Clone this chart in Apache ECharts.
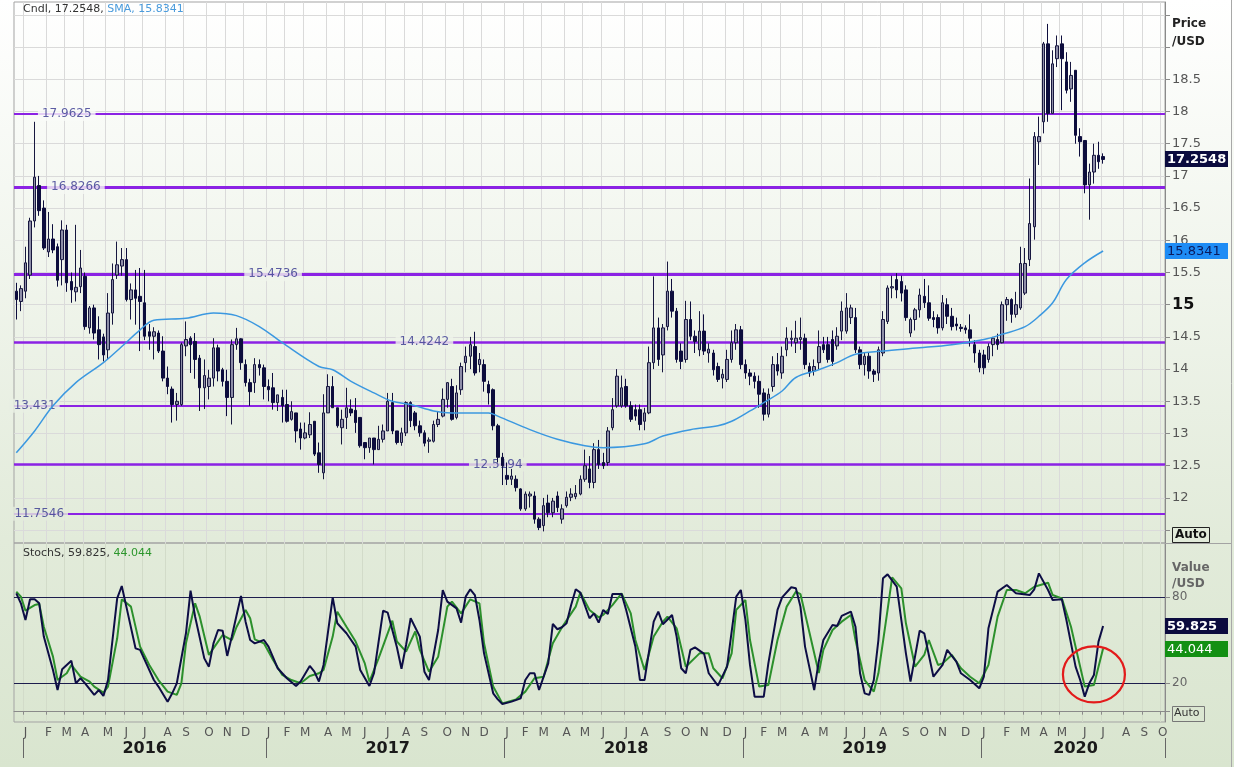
<!DOCTYPE html>
<html><head><meta charset="utf-8">
<script src="https://cdn.jsdelivr.net/npm/echarts@6/dist/echarts.min.js"></script>
<style>
html,body{margin:0;padding:0;overflow:hidden;}
#c{width:1234px;height:767px;background:linear-gradient(to bottom,rgb(255,255,255) 0px,rgb(226,235,218) 540px,rgb(217,229,207) 767px);}
</style></head><body><div id="c"></div>
<script>
// ---------- DATA ----------
const firstWeek = '2015-12-18';   // weekly categories (Fridays)
const weekCount = 251;
const monthLetters = ['J','F','M','A','M','J','J','A','S','O','N','D'];

const openP = [15.21,15.05,15.21,15.46,16.30,16.85,16.50,15.82,16.02,15.90,
15.70,16.16,15.36,15.20,15.28,15.44,14.64,14.95,14.61,14.50,
14.30,14.87,15.46,15.60,15.70,15.08,15.23,15.13,15.03,14.58,
14.51,14.56,14.28,13.86,13.69,13.45,13.45,14.36,14.48,14.43,
14.17,13.71,13.73,13.86,14.33,13.99,13.81,13.56,14.38,14.47,
14.07,13.79,13.79,14.07,14.02,13.73,13.71,13.48,13.56,13.45,
13.22,13.32,13.07,12.93,12.98,13.19,12.70,12.39,13.32,13.73,
13.40,13.09,13.25,13.38,13.36,13.25,12.86,12.78,12.93,12.75,
12.91,13.04,13.48,13.04,12.86,13.01,13.48,13.32,13.12,13.01,
12.88,12.88,13.14,13.27,13.53,13.73,13.25,13.68,14.10,14.20,
14.35,14.07,14.07,13.76,13.68,13.12,12.63,12.35,12.29,12.29,
12.14,11.83,12.03,12.03,11.67,11.57,11.92,11.77,12.03,11.67,
11.88,12.01,12.02,12.06,12.29,12.45,12.24,12.75,12.55,12.55,
13.09,13.43,13.43,13.73,13.43,13.37,13.37,13.19,13.32,14.10,
14.64,14.22,14.66,15.21,14.90,14.28,14.15,14.77,14.51,14.30,
14.59,14.25,14.25,14.04,13.86,13.84,14.15,14.41,14.61,14.07,
13.94,13.89,13.81,13.63,13.30,13.73,14.07,13.94,14.30,14.46,
14.41,14.46,14.48,14.04,13.97,14.10,14.38,14.38,14.46,14.36,
14.59,14.59,14.80,14.80,14.30,14.07,14.20,13.97,13.94,14.25,
14.74,15.26,15.39,15.36,15.23,14.56,14.77,14.92,15.13,15.03,
14.80,14.80,14.64,15.00,14.82,14.70,14.65,14.64,14.61,14.38,
14.25,14.22,14.15,14.38,14.46,14.41,15.00,15.08,14.85,14.95,
15.18,15.70,16.21,17.53,17.84,19.05,17.97,18.82,19.05,18.77,
18.35,18.64,17.61,17.55,16.86,17.06,17.32,17.30];

const highP = [15.34,15.30,15.90,16.35,17.84,17.00,16.62,16.44,16.25,15.95,
16.31,16.24,15.50,16.24,15.85,15.50,14.98,15.00,14.82,14.55,
15.18,15.64,15.98,15.88,15.88,15.33,15.54,15.57,15.54,14.70,
14.65,14.60,14.51,14.04,13.73,13.63,14.41,14.74,14.51,14.56,
14.22,14.15,13.99,14.48,14.38,14.02,13.99,14.46,14.64,14.48,
14.15,13.85,14.17,14.15,14.07,13.84,13.94,13.60,13.68,13.68,
13.50,13.32,13.17,13.17,13.33,13.19,12.86,13.61,13.92,13.89,
13.40,13.37,13.71,13.53,13.55,13.25,12.86,12.93,12.93,13.12,
13.14,13.63,13.63,13.04,13.09,13.50,13.50,13.35,13.20,13.05,
12.94,13.20,13.35,13.70,13.80,13.85,13.75,14.10,14.35,14.50,
14.58,14.25,14.15,13.82,13.70,13.15,12.70,12.55,12.45,12.35,
12.15,12.10,12.10,12.10,11.70,12.00,12.05,12.00,12.10,11.90,
12.10,12.15,12.20,12.35,12.75,12.65,12.85,12.90,12.70,13.10,
13.55,14.00,13.90,13.85,13.50,13.45,13.45,13.40,14.35,15.44,
14.80,14.70,15.67,15.40,14.95,14.40,15.06,15.05,14.60,14.90,
14.85,14.40,14.30,14.10,14.00,14.30,14.60,14.70,14.67,14.15,
14.00,13.95,13.90,13.70,13.70,14.20,14.25,14.35,14.65,14.60,
14.75,14.80,14.55,14.10,14.15,14.60,14.50,14.50,14.60,14.65,
15.05,15.18,15.00,14.95,14.35,14.25,14.25,14.00,14.35,14.90,
15.30,15.45,15.49,15.45,15.30,14.80,14.95,15.25,15.40,15.30,
14.90,14.85,15.15,15.10,14.95,14.80,14.70,14.68,14.85,14.45,
14.30,14.30,14.40,14.50,14.55,15.05,15.12,15.10,15.20,15.90,
15.88,16.96,17.68,17.92,19.08,19.36,18.95,19.18,19.18,18.92,
18.77,18.64,17.74,17.55,17.19,17.50,17.53,17.35];

const lowP = [14.77,14.90,15.10,15.40,16.20,16.38,15.85,15.74,15.80,15.28,
15.30,15.20,15.03,15.05,15.18,14.61,14.55,14.46,14.15,14.12,
14.15,14.69,15.40,15.45,15.05,14.77,14.69,14.28,14.45,14.30,
14.15,14.25,13.81,13.61,13.17,13.20,13.43,14.20,13.94,13.85,
13.35,13.38,13.53,13.73,13.81,13.73,13.27,13.14,14.30,13.99,
13.73,13.43,13.63,13.90,13.53,13.50,13.37,13.35,13.17,13.17,
13.20,12.86,12.75,12.91,12.93,12.65,12.39,12.29,13.32,13.40,
13.09,12.83,13.07,13.27,13.01,12.78,12.60,12.70,12.52,12.75,
12.86,13.04,12.99,12.83,12.81,12.96,13.10,13.05,12.95,12.80,
12.70,12.86,13.10,13.25,13.40,13.20,13.22,13.60,13.95,14.00,
13.90,13.95,13.65,13.45,13.05,12.55,12.20,12.20,12.20,12.10,
11.80,11.80,11.85,11.60,11.50,11.48,11.70,11.70,11.78,11.60,
11.85,11.95,11.98,12.04,12.25,12.15,12.15,12.45,12.45,12.50,
13.05,13.40,13.40,13.40,13.18,13.20,13.05,13.05,13.30,14.00,
14.05,13.95,14.60,14.80,14.10,14.00,14.10,14.45,14.25,14.20,
14.22,14.10,13.90,13.80,13.70,13.80,14.10,14.30,14.00,13.85,
13.75,13.70,13.40,13.20,13.25,13.65,13.90,13.85,14.20,14.35,
14.25,14.30,14.00,13.88,13.90,14.00,14.25,14.10,14.05,14.30,
14.45,14.55,14.70,14.25,14.00,13.90,13.85,13.80,13.82,14.20,
14.70,15.10,15.10,15.05,14.75,14.50,14.60,14.80,14.95,14.75,
14.65,14.55,14.60,14.70,14.60,14.60,14.58,14.55,14.35,14.10,
13.95,13.92,14.10,14.20,14.30,14.40,14.75,14.72,14.80,14.92,
15.15,15.60,16.01,17.17,17.66,17.84,17.97,18.69,18.02,18.28,
18.15,17.50,17.30,16.73,16.32,16.88,17.11,17.19];

const closeP = [15.08,15.25,15.65,16.30,16.98,16.46,15.88,16.02,15.85,15.38,
16.16,15.34,15.23,15.27,15.57,14.66,14.95,14.56,14.38,14.22,
14.87,15.39,15.62,15.70,15.08,15.23,15.10,15.05,14.51,14.51,
14.58,14.28,13.86,13.73,13.45,13.50,14.38,14.46,14.38,14.15,
13.71,13.90,13.86,14.33,13.97,13.81,13.56,14.38,14.47,14.10,
13.79,13.65,14.07,14.02,13.73,13.68,13.48,13.60,13.43,13.19,
13.34,13.04,12.93,13.01,13.14,12.68,12.52,13.32,13.73,13.40,
13.12,13.22,13.40,13.32,13.17,12.81,12.78,12.93,12.75,12.91,
13.04,13.50,13.04,12.86,13.01,13.48,13.20,13.12,13.01,12.85,
12.90,13.14,13.22,13.53,13.79,13.22,13.63,14.04,14.20,14.38,
13.94,14.15,13.81,13.63,13.12,12.63,12.50,12.29,12.34,12.16,
11.83,12.06,12.06,11.67,11.54,11.88,11.77,11.95,11.85,11.83,
12.01,12.06,12.07,12.29,12.50,12.24,12.75,12.52,12.50,13.04,
13.37,13.89,13.71,13.43,13.22,13.27,13.14,13.32,14.10,14.64,
14.15,14.64,15.21,14.90,14.15,14.12,14.77,14.51,14.43,14.59,
14.28,14.31,13.99,13.84,13.92,14.15,14.41,14.61,14.07,13.94,
13.89,13.81,13.61,13.30,13.61,14.07,13.97,14.20,14.48,14.48,
14.48,14.49,14.07,13.94,14.04,14.35,14.30,14.15,14.12,14.51,
14.90,14.95,14.95,14.30,14.07,14.20,13.97,13.92,14.30,14.77,
15.26,15.28,15.23,15.18,14.80,14.77,14.92,15.15,15.03,14.79,
14.77,14.64,15.03,14.82,14.66,14.67,14.63,14.61,14.48,14.25,
14.02,14.02,14.35,14.48,14.38,15.00,15.08,14.85,15.00,15.64,
15.64,16.26,17.61,17.61,19.05,17.97,18.74,19.02,18.82,18.33,
18.56,17.63,17.53,16.86,17.06,17.32,17.22,17.2548];

// SMA sampled at week indices
const smaIdx = [0,4,8,13,19,23,27,30,37,43,48,53,58,66,69,73,78,82,86,91,95,103,105,112,118,124,128,137,141,147,153,156,160,163,167,170,175,179,183,189,197,204,211,215,220,223,226,229,233,237];
const smaVal = [12.70,13.04,13.43,13.79,14.10,14.35,14.61,14.76,14.79,14.87,14.83,14.66,14.41,14.04,13.99,13.81,13.63,13.50,13.45,13.35,13.32,13.32,13.27,13.06,12.91,12.81,12.78,12.84,12.96,13.06,13.12,13.19,13.35,13.48,13.66,13.87,13.99,14.10,14.23,14.28,14.33,14.38,14.46,14.54,14.66,14.82,15.03,15.39,15.65,15.8341];

// Stochastic %K (navy) and %D (green) sampled at week indices
const kIdx = [0,1,2,3,4,5,6,8,9,10,12,13,14,15,17,18,19,20,22,23,24,26,27,30,31,33,34,35,37,38,39,41,42,43,44,45,46,47,48,49,50,51,52,54,55,57,59,61,62,64,65,66,67,69,70,72,74,75,77,78,80,81,83,84,85,86,88,89,90,92,93,94,96,97,98,99,100,101,102,104,105,106,108,110,111,112,113,114,116,117,118,119,120,121,122,123,125,126,127,128,129,130,132,133,135,136,137,139,140,141,143,144,145,146,147,148,150,151,153,155,157,158,159,160,161,163,164,166,167,169,170,171,172,174,175,176,178,179,180,182,183,184,185,186,187,188,189,190,192,193,194,195,197,198,200,202,203,205,206,208,210,211,212,214,216,218,221,222,223,225,226,228,229,231,232,233,234,235,236,237];
const kVal = [82.6,75.6,64,78.4,78.4,75.6,52.4,29.1,15.1,29.6,35.6,19.8,23.3,19.8,11.7,15.1,11,22.1,79.1,87.7,73.3,44.2,43.1,22.1,17.5,7,12.8,19.8,54.7,84.4,66.3,37.2,31.4,47.7,57,56.5,38.9,52.4,66.8,80.7,62.8,50,47.7,50,45.4,30.3,23.3,17.9,21,31.9,28,21,32.6,79.8,61.7,54.7,45.4,29.1,17.9,26.8,70.5,69.1,45,30,46.5,65.2,52.4,27.9,22.1,57,84.9,76.8,72.1,62.1,80.3,85.4,81.4,64,40.7,12.8,8.6,5.4,7,9.3,22.1,26.8,26.8,15.1,33.7,61.2,57.5,58.9,61.7,74.4,85.4,83.1,65.2,68.6,62.1,71,68.1,82.1,82.1,71,45.4,22.1,22.1,62.8,69.8,61,67.5,52.4,30.3,26.8,43.1,44.9,40.3,26.8,18.2,31.4,80.3,84.9,64,32.6,10.5,10.5,33.7,71,79.8,86.8,86.1,73.3,45.4,15.1,35,50,60.5,59.8,66.8,69.8,59.3,26.8,12.8,11.7,22.1,50,93.1,95.8,87.2,64,40.7,21,56.5,54.7,24.4,32.6,43.1,34.9,26.8,22.1,16.3,24.4,58.2,83.8,88.4,82.6,81.4,85.4,96.5,84.9,77.9,78.4,64,31.4,22.1,10.5,19.8,25.6,48.9,59.825];
const dIdx = [0,1,2,4,5,6,8,9,11,12,14,16,17,19,20,22,23,25,27,29,31,33,35,36,37,39,40,42,44,45,47,48,50,51,52,54,56,58,60,62,64,66,67,69,70,72,74,76,77,79,82,83,85,87,88,90,92,94,95,97,99,101,102,104,106,109,111,113,115,117,119,122,123,125,127,128,130,132,134,135,137,139,141,142,144,146,149,151,152,154,156,157,159,160,162,164,166,168,170,171,173,175,176,178,180,182,183,185,187,188,190,191,193,194,196,198,199,201,202,204,206,208,210,212,214,216,218,220,222,225,226,228,230,232,233,235,236,237];
const dVal = [83.7,80.3,70.5,74.4,75.1,59.3,38.4,22.1,26.8,32.6,24.4,21,17.5,13.3,17.5,51.2,78.4,73.3,45.4,32.6,22.1,14,11.7,19.8,47.7,75.6,66.3,39.6,48.9,53.5,50,58.9,71,65.2,50.5,47.7,36,25.6,22.1,19.8,24.9,26.8,29.1,52.4,69.8,59.3,48.9,33.7,21,37.2,63.5,49,41.9,56,43.1,27.9,38.4,73.3,76.8,68.6,78.4,75.6,47.7,17.5,5.8,8.6,14,23.3,24.4,47.7,58.9,73.3,83.1,71,65.8,67.5,74.4,82.6,68.6,50,29.1,52.4,62.8,66.3,58.2,31.4,40.7,40.7,30.3,23.3,40.7,71,77.9,50,17.5,18.6,50,73.3,83.7,82.1,54.7,27,43.1,57,62.8,67.5,50,22.1,14,26.8,71,93.7,86.1,61.7,31.4,39.6,50,32.6,33.7,39.6,30.3,24.4,19.8,32.6,66.3,84.9,84.9,82.6,87.2,90,81.4,79.1,59.3,31.4,17.5,18.6,31.4,44.044];

const levels = [17.9625, 16.8266, 15.4736, 14.4242, 13.431, 12.5194, 11.7546];
const levelLabelIdx = [11, 13, 56, 89, 4, 105, 5];
const priceTicks = [11.5,12,12.5,13,13.5,14,14.5,15,15.5,16,16.5,17,17.5,18,18.5,19,19.5];
const priceLabels = [12,12.5,13,13.5,14,14.5,15,15.5,16,16.5,17,17.5,18,18.5];
const stochTicks = [0,20,40,60,80];
const stochLabels = [20,40,60,80];
const stochRefLines = [80, 20];
const lastClose = 17.2548, lastSma = 15.8341, lastK = 59.825, lastD = 44.044;
const yearLabelIdx = [28, 81, 133, 185, 231];

// ---------- STYLE ----------
const FONT = 'DejaVu Sans, Verdana, sans-serif';
const LEVEL_COLOR = '#8b22e4';
const levelWidths = [2, 3, 3, 2.5, 2, 2.5, 2];
const bgStops = [[0,[255,255,255]],[540,[226,235,218]],[767,[217,229,207]]];
function bgAt(y){
  for (let i=1;i<bgStops.length;i++){
    if (y<=bgStops[i][0]){
      const a=bgStops[i-1], b=bgStops[i], t=(y-a[0])/(b[0]-a[0]);
      const c=a[1].map((v,k)=>Math.round(v+(b[1][k]-v)*t));
      return 'rgb('+c.join(',')+')';
    }
  }
  return 'rgb(217,229,207)';
}

// ---------- BUILD ----------
const weeks = [];
const d0 = new Date(firstWeek + 'T00:00:00Z');
for (let i=0;i<weekCount;i++){ weeks.push(new Date(d0.getTime()+i*7*86400000).toISOString().slice(0,10)); }
const monthStart = weeks.map((w,i)=> i>0 && w.slice(5,7)!==weeks[i-1].slice(5,7));
const yearStart = weeks.map((w,i)=> i>0 && w.slice(0,4)!==weeks[i-1].slice(0,4));
const yearLabelSet = new Set(yearLabelIdx);

const candleData = closeP.map((c,i)=>[openP[i], c, lowP[i], highP[i]]);
const smaData = smaIdx.map((ix,j)=>[weeks[ix], smaVal[j]]);
const kData = kIdx.map((ix,j)=>[weeks[ix], kVal[j]]);
const dData = dIdx.map((ix,j)=>[weeks[ix], dVal[j]]);

const chart = echarts.init(document.getElementById('c'), null, {renderer:'canvas'});
const option = {
  animation:false,
  backgroundColor:'transparent',
  grid:[
    {left:14, right:69, top:2, height:541, show:true, borderColor:'#a3a3a3', borderWidth:1},
    {left:14, right:69, top:543, height:179, show:true, borderColor:'#a3a3a3', borderWidth:1}
  ],
  xAxis:[
    {type:'category', gridIndex:0, data:weeks, axisLine:{show:false}, axisTick:{show:false}, axisLabel:{show:false},
      splitLine:{show:true, interval:(i)=>monthStart[i], lineStyle:{color:'#dadada'}}},
    {type:'category', gridIndex:1, data:weeks, axisLine:{show:true, lineStyle:{color:'#8a8a8a'}},
      axisTick:{show:true, interval:(i)=>monthStart[i], length:3, lineStyle:{color:'#8a8a8a'}},
      axisLabel:{interval:(i)=>monthStart[i], formatter:(v)=>monthLetters[parseInt(v.slice(5,7),10)-1], color:'#555', fontSize:12, fontFamily:FONT, margin:5},
      splitLine:{show:true, interval:(i)=>monthStart[i], lineStyle:{color:'#d2dbc9'}}},
    {type:'category', gridIndex:1, data:weeks, position:'bottom', offset:16, axisLine:{show:false},
      axisTick:{show:true, interval:(i)=>yearStart[i], length:20, lineStyle:{color:'#666'}},
      axisLabel:{interval:(i)=>yearLabelSet.has(i), formatter:(v)=>v.slice(0,4), fontWeight:'bold', fontSize:16, color:'#1a1a1a', fontFamily:FONT, margin:3},
      splitLine:{show:false}}
  ],
  yAxis:[
    {type:'value', gridIndex:0, position:'right', min:11.3, max:19.7,
      axisLine:{show:true, lineStyle:{color:'#8a8a8a'}},
      axisTick:{show:true, length:5, customValues:priceTicks, lineStyle:{color:'#8a8a8a'}},
      axisLabel:{customValues:priceLabels, margin:7, color:'#555', fontSize:13, fontFamily:FONT,
        formatter:(v)=> v===15 ? '{b|15}' : String(v),
        rich:{b:{fontWeight:'bold', fontSize:16, color:'#111', fontFamily:FONT}}},
      splitLine:{show:true, lineStyle:{color:'#dadada'}}},
    {type:'value', gridIndex:1, position:'right', min:-7.2, max:117.7,
      axisLine:{show:true, lineStyle:{color:'#8a8a8a'}},
      axisTick:{show:true, length:5, customValues:stochTicks, lineStyle:{color:'#8a8a8a'}},
      axisLabel:{customValues:stochLabels, margin:7, color:'#666', fontSize:12, fontFamily:FONT},
      splitLine:{show:false}}
  ],
  series:[
    {id:'levels', type:'line', xAxisIndex:0, yAxisIndex:0, data:[], z:1, silent:true,
      markLine:{z:1, silent:true, symbol:'none', animation:false, label:{show:false},
        data: levels.map((lv,i)=>({yAxis:lv, lineStyle:{color:LEVEL_COLOR, width:levelWidths[i], type:'solid'}}))}},
    {id:'levelLabels', type:'scatter', xAxisIndex:0, yAxisIndex:0, z:2, symbolSize:0, silent:true,
      data: levels.map((lv,i)=>({value:[weeks[levelLabelIdx[i]], lv]})),
      label:{show:true, position:'inside', formatter:(p)=>String(p.value[1]), color:'#34348e', fontSize:12, fontFamily:FONT, padding:[1,4], backgroundColor:'#f4f7f1'}},
    {id:'cndl', type:'candlestick', xAxisIndex:0, yAxisIndex:0, z:3, data:candleData, barWidth:3,
      itemStyle:{color:'#8e8ea8', color0:'#0d0d3d', borderColor:'#17173f', borderColor0:'#0d0d3d', borderWidth:1}},
    {id:'sma', type:'line', xAxisIndex:0, yAxisIndex:0, z:4, data:smaData, smooth:0.35, showSymbol:false,
      lineStyle:{color:'#3b98e0', width:1.5}},
    {id:'stochRef', type:'line', xAxisIndex:1, yAxisIndex:1, data:[], z:1, silent:true,
      markLine:{z:1, silent:true, symbol:'none', animation:false, label:{show:false},
        data: stochRefLines.map(v=>({yAxis:v})), lineStyle:{color:'#1d1d4d', width:1, type:'solid'}}},
    {id:'stochD', type:'line', xAxisIndex:1, yAxisIndex:1, z:3, data:dData, showSymbol:false,
      lineStyle:{color:'#2c902c', width:2}},
    {id:'stochK', type:'line', xAxisIndex:1, yAxisIndex:1, z:4, data:kData, showSymbol:false,
      lineStyle:{color:'#0d0d45', width:2}}
  ]
};
chart.setOption(option);

// second pass: label backgrounds, value boxes, annotations
const labelData = levels.map((lv,i)=>{
  const p = chart.convertToPixel({gridIndex:0}, [weeks[levelLabelIdx[i]], lv]);
  return {value:[weeks[levelLabelIdx[i]], lv], label:{backgroundColor: bgAt(p[1])}};
});
function valueBox(id, gridIndex, val, text, bg, fg, bold){
  const y = chart.convertToPixel({gridIndex}, [weeks[0], val])[1];
  return [
    {id:id+'r', type:'rect', z:55, shape:{x:1165, y:Math.round(y)-8, width:63, height:16}, style:{fill:bg}},
    {id:id+'t', type:'text', z:56, x:1167, y:Math.round(y)+0.5, style:{text, fill:fg, font:(bold?'bold ':'')+'13px DejaVu Sans', align:'left', verticalAlign:'middle'}}
  ];
}
const circ = chart.convertToPixel({gridIndex:1}, [weeks[235], 26]);
const T = (id, left, top, text, font, fill) => ({id, type:'text', left, top, z:50, style:{text, font, fill, align:'left', verticalAlign:'top'}});
chart.setOption({
  series:[{id:'levelLabels', data:labelData}],
  graphic:[
    {id:'t1', type:'text', left:23, top:4, z:50, style:{text:'{a|Cndl, 17.2548, }{b|SMA, 15.8341}',
      rich:{a:{fill:'#333', fontSize:11, fontFamily:FONT}, b:{fill:'#4a9bdc', fontSize:11, fontFamily:FONT}}}},
    {id:'t2', type:'text', left:23, top:548, z:50, style:{text:'{a|StochS, 59.825, }{b|44.044}',
      rich:{a:{fill:'#333', fontSize:11, fontFamily:FONT}, b:{fill:'#2c962c', fontSize:11, fontFamily:FONT}}}},
    T('p1', 1172, 18, 'Price', 'bold 12px DejaVu Sans', '#222'),
    T('p2', 1172, 36, '/USD', 'bold 12px DejaVu Sans', '#222'),
    T('v1', 1172, 562, 'Value', 'bold 12px DejaVu Sans', '#666'),
    T('v2', 1172, 578, '/USD', 'bold 12px DejaVu Sans', '#666'),
    {id:'a1r', type:'rect', z:50, shape:{x:1172.5, y:527.5, width:37, height:15}, style:{fill:'none', stroke:'#222', lineWidth:1}},
    T('a1t', 1175, 529, 'Auto', 'bold 12px DejaVu Sans', '#111'),
    {id:'a2r', type:'rect', z:50, shape:{x:1172.5, y:706.5, width:32, height:15}, style:{fill:'none', stroke:'#777', lineWidth:1}},
    T('a2t', 1174, 708, 'Auto', '11px DejaVu Sans', '#333'),
    {id:'sep', type:'line', z:50, shape:{x1:1165, y1:543.5, x2:1231, y2:543.5}, style:{stroke:'#a3a3a3', lineWidth:1}},
    {id:'frameR', type:'line', z:50, shape:{x1:1231.5, y1:0, x2:1231.5, y2:767}, style:{stroke:'#a8a8a8', lineWidth:1}},
    ...valueBox('bc', 0, lastClose, '17.2548', '#0b0b3e', '#ffffff', true),
    ...valueBox('bs', 0, lastSma, '15.8341', '#1e8cf5', '#0b1a5c', false),
    ...valueBox('bk', 1, lastK, '59.825', '#0b0b3e', '#ffffff', true),
    ...valueBox('bd', 1, lastD, '44.044', '#139013', '#ffffff', false),
    {id:'circ', type:'ellipse', z:60, shape:{cx:circ[0], cy:circ[1], rx:31, ry:28}, style:{fill:'none', stroke:'#e31b1b', lineWidth:2.2}}
  ]
});
</script></body></html>
